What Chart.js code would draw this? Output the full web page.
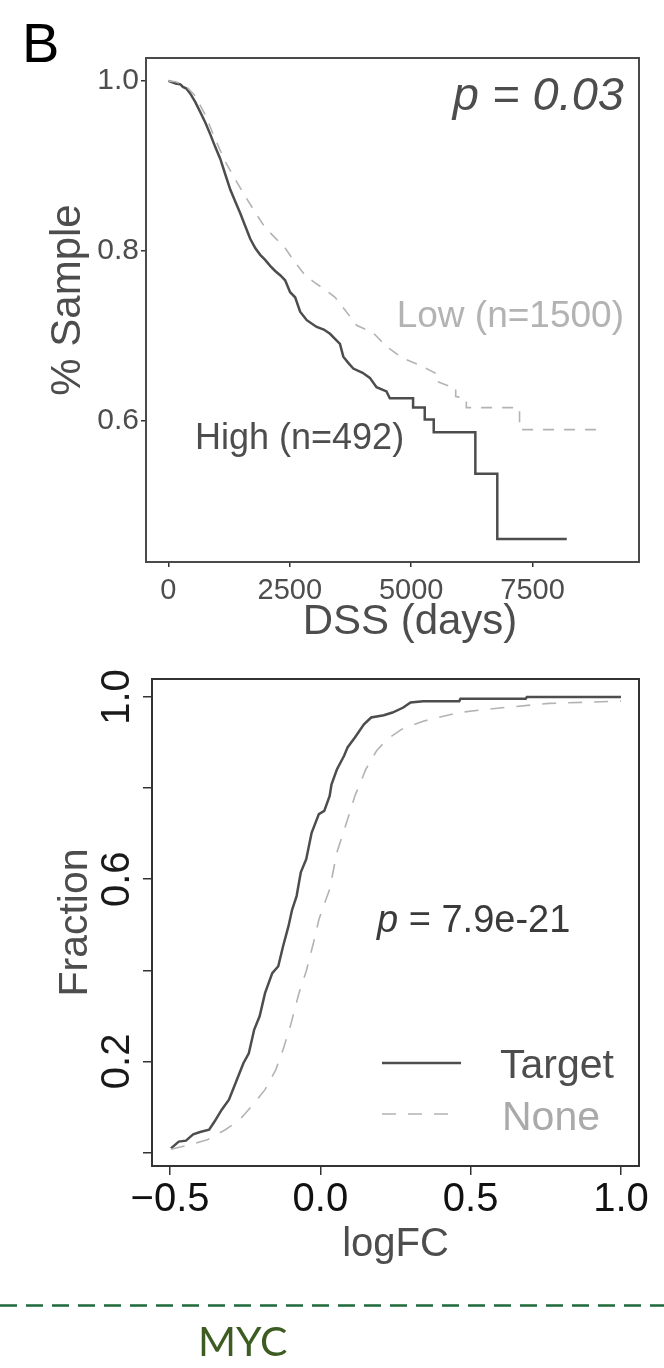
<!DOCTYPE html>
<html>
<head>
<meta charset="utf-8">
<script src="https://cdn.jsdelivr.net/npm/chart.js@4.4.1/dist/chart.umd.min.js"></script>
<style>
html,body{margin:0;padding:0;background:#fff;}
body{width:664px;height:1368px;position:relative;overflow:hidden;}
#deco{position:absolute;left:0;top:0;}
.wrap{position:absolute;left:0;width:664px;}
</style>
</head>
<body>
<canvas id="deco" width="664" height="1368"></canvas>
<div class="wrap" style="top:0;height:660px"><canvas id="c1"></canvas></div>
<div class="wrap" style="top:660px;height:640px"><canvas id="c2"></canvas></div>
<script>
// ---------- DATA ----------
// Panel B top: Kaplan-Meier DSS curves (incl. step corners)
const highDays = [0,150,247,300,370,452,555,658,760,863,966,1069,1171,1274,1377,1480,1582,1685,1788,1891,1993,2096,2199,2302,2404,2507,2610,2713,2850,3054,3200,3328,3533,3602,3700,3807,4000,4149,4286,4491,4560,5039,5039,5279,5279,5464,5464,6321,6321,6773,6773,8203];
const highSurv = [1.000,0.997,0.996,0.993,0.991,0.985,0.975,0.963,0.951,0.937,0.922,0.908,0.890,0.872,0.858,0.844,0.829,0.814,0.803,0.795,0.789,0.782,0.776,0.771,0.765,0.751,0.745,0.728,0.718,0.710,0.707,0.702,0.690,0.675,0.668,0.661,0.656,0.650,0.639,0.634,0.626,0.626,0.615,0.615,0.601,0.601,0.586,0.586,0.537,0.537,0.460,0.460];
const lowDays = [0,150,349,555,760,966,1171,1377,1582,1788,1993,2199,2404,2610,2815,3021,3226,3432,3637,3876,4218,4491,4833,5177,5347,5518,5518,5793,5917,5917,6135,6135,7231,7231,9000];
const lowSurv = [1.000,0.999,0.995,0.982,0.960,0.931,0.905,0.884,0.864,0.845,0.827,0.815,0.803,0.786,0.771,0.762,0.754,0.745,0.730,0.712,0.703,0.687,0.673,0.665,0.660,0.655,0.646,0.640,0.639,0.628,0.626,0.615,0.615,0.589,0.589];
const dssTicks = [0,2500,5000,7500];
const sampleTicks = [0.6,0.8,1.0];
const sampleTickLabels = ['0.6','0.8','1.0'];

// Bottom: cumulative fraction vs logFC
const targetLogFC = [-0.497,-0.471,-0.447,-0.423,-0.400,-0.370,-0.352,-0.328,-0.304,-0.280,-0.256,-0.238,-0.220,-0.202,-0.184,-0.160,-0.140,-0.124,-0.106,-0.094,-0.079,-0.065,-0.047,-0.029,-0.005,0.013,0.031,0.037,0.055,0.079,0.091,0.115,0.145,0.169,0.211,0.240,0.276,0.300,0.342,0.462,0.466,0.683,0.687,1.000];
const targetFrac = [0.009,0.024,0.026,0.040,0.045,0.050,0.068,0.094,0.116,0.156,0.196,0.218,0.270,0.299,0.350,0.394,0.409,0.453,0.497,0.533,0.563,0.615,0.644,0.702,0.743,0.750,0.783,0.808,0.841,0.871,0.890,0.911,0.940,0.955,0.960,0.966,0.977,0.988,0.991,0.991,0.996,0.996,1.000,1.000];
const noneLogFC = [-0.497,-0.435,-0.376,-0.316,-0.268,-0.220,-0.184,-0.148,-0.124,-0.100,-0.071,-0.047,-0.023,-0.005,0.010,0.031,0.055,0.091,0.115,0.151,0.187,0.222,0.270,0.342,0.462,0.581,0.761,1.000];
const noneFrac = [0.007,0.017,0.028,0.050,0.072,0.108,0.138,0.182,0.226,0.277,0.350,0.398,0.460,0.511,0.540,0.578,0.659,0.732,0.783,0.841,0.882,0.907,0.929,0.947,0.966,0.975,0.986,0.991];
const logfcTicks = [-0.5,0,0.5,1.0];
const logfcTickLabels = ['\u22120.5','0.0','0.5','1.0'];
const fracTicks = [0,0.2,0.4,0.6,0.8,1.0];
const fracTickLabels = ['','0.2','','0.6','','1.0'];

// ---------- RENDER ----------
const FONT = "'Liberation Sans', Arial, Helvetica, sans-serif";
Chart.defaults.font.family = FONT;
Chart.defaults.animation = false;

function pts(xs, ys){ return xs.map((x,i)=>({x:x, y:ys[i]})); }

// decorations
(function(){
  const c = document.getElementById('deco').getContext('2d');
  c.fillStyle = '#000';
  c.font = "56px " + FONT;
  c.textBaseline = 'alphabetic';
  c.fillText('B', 22, 62);
  c.strokeStyle = '#1f6a3c';
  c.lineWidth = 2.5;
  c.setLineDash([17,9]);
  c.beginPath(); c.moveTo(0,1305.5); c.lineTo(664,1305.5); c.stroke();
  c.setLineDash([]);
  c.fillStyle = '#3d5c22';
  c.font = "41px Lato, 'Open Sans', sans-serif";
  c.fillText('MYC', 198, 1356);
})();

const boxPlugin = (color, width) => ({
  id:'box'+Math.random().toString(36).slice(2),
  afterDatasetsDraw(chart){
    const a = chart.chartArea, c = chart.ctx;
    c.save(); c.strokeStyle = color; c.lineWidth = width; c.setLineDash([]);
    c.strokeRect(a.left, a.top, a.right-a.left, a.bottom-a.top);
    c.restore();
  }
});

// ---- top chart ----
const annTop = {
  id:'annTop',
  afterDraw(chart){
    const c = chart.ctx; c.save();
    c.textBaseline = 'alphabetic';
    c.fillStyle = '#4d4d4d'; c.textAlign = 'right';
    c.font = "italic 47px " + FONT; c.fillText('p = 0.03', 624, 110);
    c.fillStyle = '#b3b3b3'; c.font = "37px " + FONT; c.fillText('Low (n=1500)', 624, 327);
    c.fillStyle = '#4d4d4d'; c.textAlign = 'left'; c.font = "36px " + FONT; c.fillText('High (n=492)', 195, 449);
    // axis titles
    c.fillStyle = '#4d4d4d'; c.textAlign = 'center'; c.textBaseline = 'middle';
    c.font = "42px " + FONT; c.fillText('DSS (days)', 410, 622);
    c.translate(68, 300); c.rotate(-Math.PI/2);
    c.font = "42px " + FONT; c.fillText('% Sample', 0, 0);
    c.restore();
  }
};

new Chart(document.getElementById('c1'), {
  type:'scatter',
  data:{datasets:[
    {label:'Low (n=1500)', data:pts(lowDays, lowSurv), showLine:true, borderColor:'#b3b3b3', borderWidth:1.6, borderDash:[11,10], pointRadius:0, fill:false, tension:0},
    {label:'High (n=492)', data:pts(highDays, highSurv), showLine:true, borderColor:'#4d4d4d', borderWidth:2.5, pointRadius:0, fill:false, tension:0}
  ]},
  options:{
    responsive:true, maintainAspectRatio:false, animation:false,
    layout:{padding:{left:0, top:58, right:25, bottom:0}},
    plugins:{legend:{display:false}, tooltip:{enabled:false}},
    scales:{
      x:{type:'linear', min:-461, max:9691,
        afterBuildTicks:s=>{ s.ticks = dssTicks.map(v=>({value:v})); },
        afterFit:s=>{ s.height = 98; },
        grid:{display:true, drawOnChartArea:false, drawTicks:true, tickLength:5, color:'#333', lineWidth:1.5},
        border:{display:false},
        ticks:{color:'#4d4d4d', font:{size:29, lineHeight:1}, padding:9, maxRotation:0, minRotation:0, autoSkip:false, callback:v=>String(v)},
        title:{display:false}
      },
      y:{type:'linear', min:0.433, max:1.027,
        afterBuildTicks:s=>{ s.ticks = sampleTicks.map(v=>({value:v})); },
        afterFit:s=>{ s.width = 146; },
        grid:{display:true, drawOnChartArea:false, drawTicks:true, tickLength:5, color:'#333', lineWidth:1.5},
        border:{display:false},
        ticks:{color:'#4d4d4d', font:{size:30, lineHeight:1}, padding:2, autoSkip:false,
          callback:v=>{ const i = sampleTicks.indexOf(v); return i>=0 ? sampleTickLabels[i] : ''; }},
        title:{display:false}
      }
    }
  },
  plugins:[boxPlugin('#4a4a4a', 2), annTop]
});

// ---- bottom chart ----
const annBot = {
  id:'annBot',
  afterDraw(chart){
    const c = chart.ctx; c.save();
    c.textBaseline = 'alphabetic'; c.textAlign = 'left';
    c.fillStyle = '#3a3a3a';
    c.font = "italic 38px " + FONT; c.fillText('p', 377, 272);
    const pw = c.measureText('p').width;
    c.font = "38px " + FONT; c.fillText(' = 7.9e-21', 377 + pw, 272);
    // legend
    c.strokeStyle = '#4d4d4d'; c.lineWidth = 2.5;
    c.beginPath(); c.moveTo(382, 403); c.lineTo(461, 403); c.stroke();
    c.strokeStyle = '#b3b3b3'; c.lineWidth = 1.6; c.setLineDash([14,12]);
    c.beginPath(); c.moveTo(382, 454); c.lineTo(452, 454); c.stroke();
    c.setLineDash([]);
    c.font = "41px " + FONT;
    c.fillStyle = '#4d4d4d'; c.fillText('Target', 500, 418);
    c.fillStyle = '#aaaaaa'; c.fillText('None', 502, 470);
    c.restore();
  }
};

new Chart(document.getElementById('c2'), {
  type:'scatter',
  data:{datasets:[
    {label:'None', data:pts(noneLogFC, noneFrac), showLine:true, borderColor:'#b3b3b3', borderWidth:1.6, borderDash:[14,12], pointRadius:0, fill:false, tension:0},
    {label:'Target', data:pts(targetLogFC, targetFrac), showLine:true, borderColor:'#4d4d4d', borderWidth:2.5, pointRadius:0, fill:false, tension:0}
  ]},
  options:{
    responsive:true, maintainAspectRatio:false, animation:false,
    layout:{padding:{left:0, top:19, right:25, bottom:0}},
    plugins:{legend:{display:false}, tooltip:{enabled:false}},
    scales:{
      x:{type:'linear', min:-0.56, max:1.06,
        afterBuildTicks:s=>{ s.ticks = logfcTicks.map(v=>({value:v})); },
        afterFit:s=>{ s.height = 134; },
        grid:{display:true, drawOnChartArea:false, drawTicks:true, tickLength:9, color:'#333', lineWidth:1.5},
        border:{display:false},
        ticks:{color:'#111', font:{size:40, lineHeight:1}, padding:5, maxRotation:0, minRotation:0, autoSkip:false,
          callback:v=>{ const i = logfcTicks.indexOf(v); return i>=0 ? logfcTickLabels[i] : ''; }},
        title:{display:true, text:'logFC', color:'#4d4d4d', font:{size:40, lineHeight:1}, padding:{top:0, bottom:35}}
      },
      y:{type:'linear', min:-0.0296, max:1.0396,
        afterBuildTicks:s=>{ s.ticks = fracTicks.map(v=>({value:v})); },
        afterFit:s=>{ s.width = 152; },
        grid:{display:true, drawOnChartArea:false, drawTicks:true, tickLength:9, color:'#333', lineWidth:1.5},
        border:{display:false},
        ticks:{color:'#1a1a1a', font:{size:40, lineHeight:1}, padding:-3, minRotation:90, maxRotation:90, crossAlign:'center', autoSkip:false,
          callback:v=>{ const i = fracTicks.findIndex(t=>Math.abs(t-v)<1e-9); return i>=0 ? fracTickLabels[i] : ''; }},
        title:{display:true, text:'Fraction', color:'#4d4d4d', font:{size:41, lineHeight:1}, padding:{top:55, bottom:0}}
      }
    }
  },
  plugins:[boxPlugin('#333', 2), annBot]
});
</script>
</body>
</html>
